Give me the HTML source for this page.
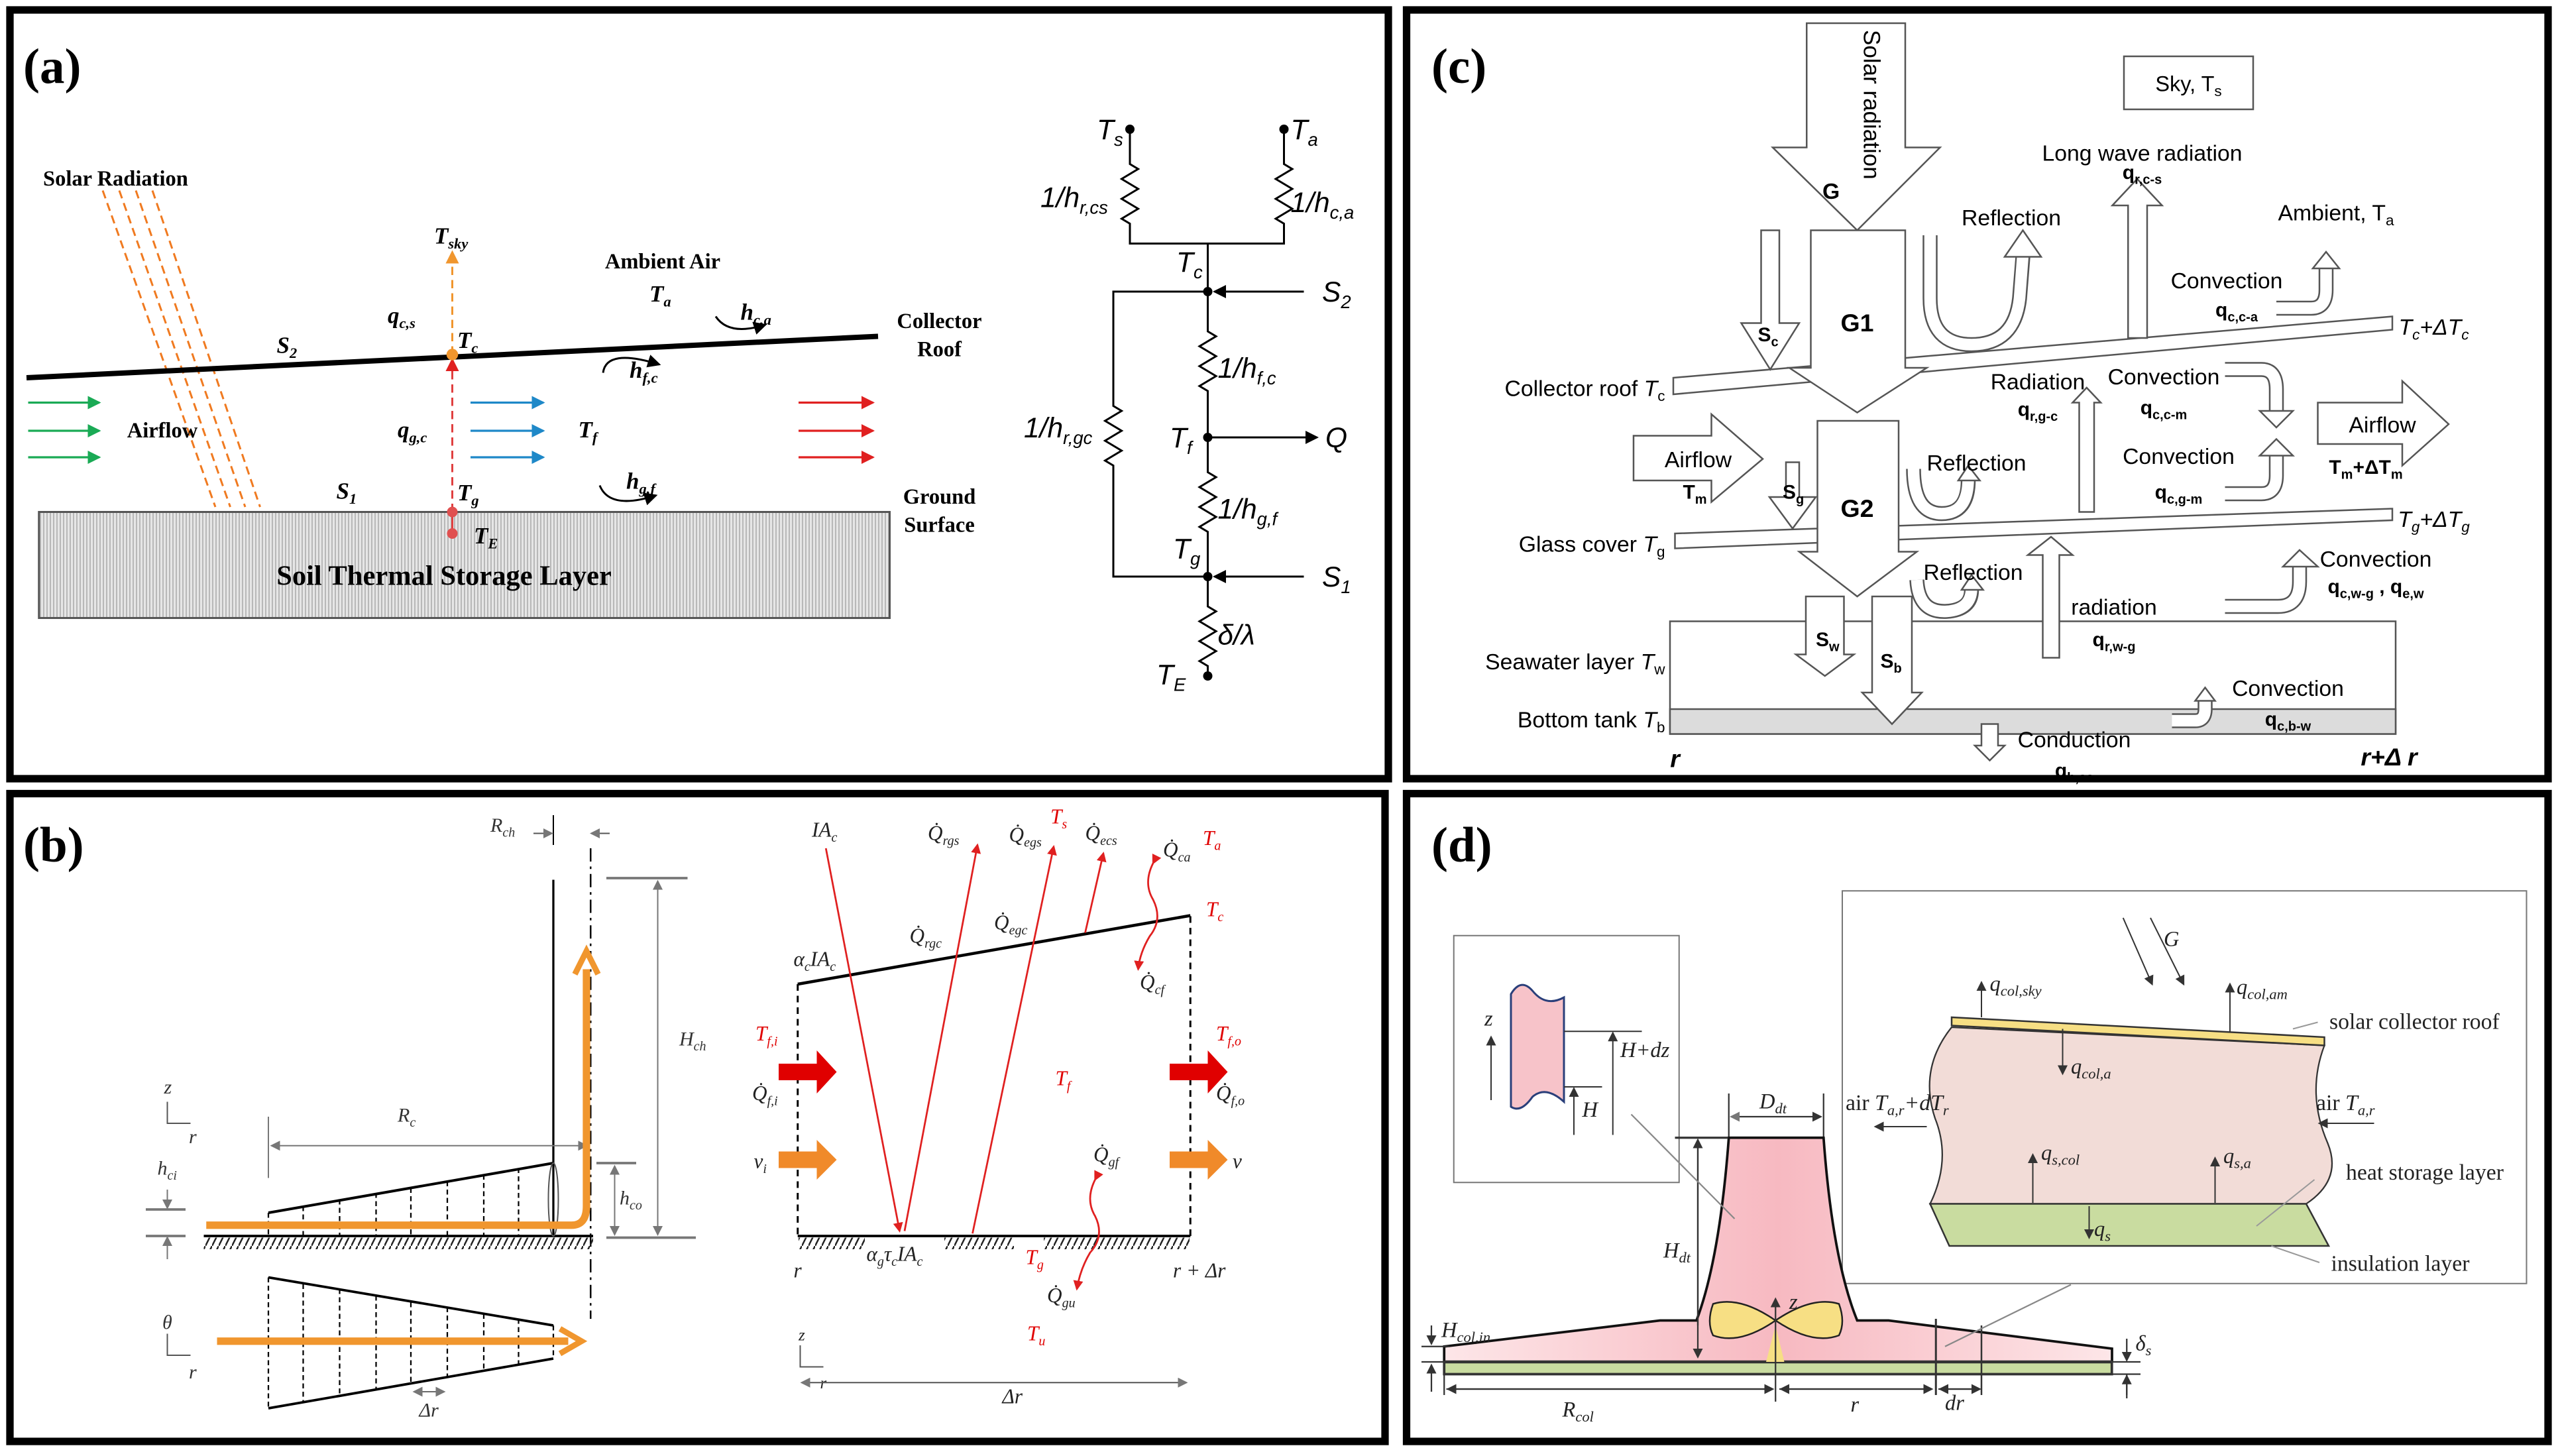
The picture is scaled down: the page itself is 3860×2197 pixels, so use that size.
<!DOCTYPE html>
<html><head><meta charset="utf-8"><style>
html,body{margin:0;padding:0;background:#fff;}
svg{display:block;}
.s{font-family:"Liberation Serif",serif;}
.si{font-family:"Liberation Serif",serif;font-style:italic;}
.ss{font-family:"Liberation Sans",sans-serif;}
.ssi{font-family:"Liberation Sans",sans-serif;font-style:italic;}
</style></head><body>
<svg width="3860" height="2197" viewBox="0 0 1544 878.8" xmlns="http://www.w3.org/2000/svg">
<defs>
<marker id="mk" markerWidth="8" markerHeight="8" refX="7" refY="4" orient="auto" markerUnits="userSpaceOnUse"><path d="M0,0 L8,4 L0,8 z" fill="#000"/></marker>
<marker id="mg" markerWidth="8" markerHeight="8" refX="7" refY="4" orient="auto" markerUnits="userSpaceOnUse"><path d="M0,0 L8,4 L0,8 z" fill="#1aaa55"/></marker>
<marker id="mb" markerWidth="8" markerHeight="8" refX="7" refY="4" orient="auto" markerUnits="userSpaceOnUse"><path d="M0,0 L8,4 L0,8 z" fill="#1e88c8"/></marker>
<marker id="mr" markerWidth="8" markerHeight="8" refX="7" refY="4" orient="auto" markerUnits="userSpaceOnUse"><path d="M0,0 L8,4 L0,8 z" fill="#e02020"/></marker>
<marker id="mo" markerWidth="8" markerHeight="8" refX="7" refY="4" orient="auto" markerUnits="userSpaceOnUse"><path d="M0,0 L8,4 L0,8 z" fill="#f0962e"/></marker>
<marker id="mrs" markerWidth="6" markerHeight="6" refX="5" refY="3" orient="auto" markerUnits="userSpaceOnUse"><path d="M0,0 L6,3 L0,6 z" fill="#e02020"/></marker>
<marker id="mks" markerWidth="6" markerHeight="6" refX="5" refY="3" orient="auto" markerUnits="userSpaceOnUse"><path d="M0,0 L6,3 L0,6 z" fill="#333"/></marker>
<marker id="mgs" markerWidth="6" markerHeight="6" refX="5" refY="3" orient="auto" markerUnits="userSpaceOnUse"><path d="M0,0 L6,3 L0,6 z" fill="#777"/></marker>
<marker id="mgb" markerWidth="6" markerHeight="6" refX="1" refY="3" orient="auto" markerUnits="userSpaceOnUse"><path d="M6,0 L0,3 L6,6 z" fill="#777"/></marker>
<pattern id="hatchv" width="2" height="10" patternUnits="userSpaceOnUse"><rect width="2" height="10" fill="#e6e6e6"/><rect width="0.8" height="10" fill="#b8b8b8"/></pattern>
<pattern id="hatchd" width="4" height="8" patternUnits="userSpaceOnUse"><path d="M4,0 L0,8" stroke="#222" stroke-width="1"/></pattern>
<linearGradient id="pk" x1="0" x2="1"><stop offset="0" stop-color="#fde6e8"/><stop offset="0.5" stop-color="#f7b9c1"/><stop offset="1" stop-color="#fde6e8"/></linearGradient>
</defs>

<!-- panel borders -->
<rect x="6" y="6" width="832" height="464" fill="none" stroke="#000" stroke-width="4.5"/>
<rect x="849" y="6" width="689" height="464" fill="none" stroke="#000" stroke-width="4.5"/>
<rect x="6" y="479" width="830" height="391" fill="none" stroke="#000" stroke-width="4.5"/>
<rect x="849" y="479" width="689" height="391" fill="none" stroke="#000" stroke-width="4.5"/>

<!-- ================= (a) ================= -->
<text x="14" y="50" class="s" font-size="30" font-weight="bold">(a)</text>
<text x="26" y="112" class="s" font-size="13" font-weight="bold">Solar Radiation</text>
<g stroke="#f07a20" stroke-width="1.2" stroke-dasharray="5,3" fill="none">
<line x1="62" y1="115" x2="130" y2="306"/><line x1="72" y1="115" x2="139" y2="306"/>
<line x1="82" y1="115" x2="148" y2="306"/><line x1="92" y1="115" x2="157" y2="306"/>
</g>
<rect x="23.5" y="309" width="513.5" height="64" fill="url(#hatchv)" stroke="#555" stroke-width="1.2"/>
<text x="268" y="353" class="s" font-size="17" font-weight="bold" text-anchor="middle">Soil Thermal Storage Layer</text>
<line x1="16" y1="228" x2="530" y2="203" stroke="#000" stroke-width="3.2"/>
<line x1="273" y1="214" x2="273" y2="152" stroke="#f0962e" stroke-width="1.2" stroke-dasharray="5,3" marker-end="url(#mo)"/>
<line x1="273" y1="309" x2="273" y2="217" stroke="#e04040" stroke-width="1.2" stroke-dasharray="5,3" marker-end="url(#mr)"/>
<line x1="273" y1="309" x2="273" y2="322" stroke="#e04040" stroke-width="1.2"/>
<circle cx="273" cy="214" r="3.5" fill="#f0962e"/>
<circle cx="273" cy="309" r="3.2" fill="#e05050"/>
<circle cx="273" cy="322" r="3.2" fill="#e05050"/>
<g stroke-width="1.3">
<line x1="17" y1="243" x2="60" y2="243" stroke="#1aaa55" marker-end="url(#mg)"/>
<line x1="17" y1="260" x2="60" y2="260" stroke="#1aaa55" marker-end="url(#mg)"/>
<line x1="17" y1="276" x2="60" y2="276" stroke="#1aaa55" marker-end="url(#mg)"/>
<line x1="284" y1="243" x2="328" y2="243" stroke="#1e88c8" marker-end="url(#mb)"/>
<line x1="284" y1="260" x2="328" y2="260" stroke="#1e88c8" marker-end="url(#mb)"/>
<line x1="284" y1="276" x2="328" y2="276" stroke="#1e88c8" marker-end="url(#mb)"/>
<line x1="482" y1="243" x2="527" y2="243" stroke="#e02020" marker-end="url(#mr)"/>
<line x1="482" y1="260" x2="527" y2="260" stroke="#e02020" marker-end="url(#mr)"/>
<line x1="482" y1="276" x2="527" y2="276" stroke="#e02020" marker-end="url(#mr)"/>
</g>
<g fill="none" stroke="#000" stroke-width="1.2">
<path d="M432 191 Q440 203 462 196" marker-end="url(#mk)"/>
<path d="M364 225 Q366 210 398 220" marker-end="url(#mk)"/>
<path d="M362 293 Q368 308 396 299" marker-end="url(#mk)"/>
</g>
<g class="si" font-weight="bold" font-size="14">
<text x="262" y="147">T<tspan font-size="9" dy="3">sky</tspan></text>
<text x="234" y="195">q<tspan font-size="9" dy="3">c,s</tspan></text>
<text x="276" y="210">T<tspan font-size="9" dy="3">c</tspan></text>
<text x="167" y="213">S<tspan font-size="9" dy="3">2</tspan></text>
<text x="392" y="182">T<tspan font-size="9" dy="3">a</tspan></text>
<text x="447" y="193">h<tspan font-size="9" dy="3">c,a</tspan></text>
<text x="380" y="228">h<tspan font-size="9" dy="3">f,c</tspan></text>
<text x="240" y="264">q<tspan font-size="9" dy="3">g,c</tspan></text>
<text x="349" y="264">T<tspan font-size="9" dy="3">f</tspan></text>
<text x="203" y="301">S<tspan font-size="9" dy="3">1</tspan></text>
<text x="276" y="302">T<tspan font-size="9" dy="3">g</tspan></text>
<text x="378" y="295">h<tspan font-size="9" dy="3">g,f</tspan></text>
<text x="286" y="328">T<tspan font-size="9" dy="3">E</tspan></text>
</g>
<g class="s" font-weight="bold" font-size="13">
<text x="400" y="162" text-anchor="middle">Ambient Air</text>
<text x="567" y="198" text-anchor="middle">Collector</text>
<text x="567" y="215" text-anchor="middle">Roof</text>
<text x="98" y="264" text-anchor="middle">Airflow</text>
<text x="567" y="304" text-anchor="middle">Ground</text>
<text x="567" y="321" text-anchor="middle">Surface</text>
</g>
<!-- circuit -->
<g fill="none" stroke="#000" stroke-width="1.2">
<path d="M682 78 L682 99 l5 3 l-10 6 l10 6 l-10 6 l10 6 l-10 6 l5 3 L682 147 L775 147 L775 135 l-5 -3 l10 -6 l-10 -6 l10 -6 l-10 -6 l10 -6 l-5 -3 L775 78"/>
<path d="M729 147 L729 200 l5 3 l-10 6 l10 6 l-10 6 l10 6 l-10 6 l5 3 L729 285 l5 3 l-10 6 l10 6 l-10 6 l10 6 l-10 6 l5 3 L729 366 l5 3 l-10 6 l10 6 l-10 6 l10 6 l-10 6 l5 3 L729 408"/>
<path d="M729 176 L672 176 L672 245 l5 3 l-10 6 l10 6 l-10 6 l10 6 l-10 6 l5 3 L672 348 L729 348"/>
<line x1="787" y1="176" x2="733" y2="176" marker-end="url(#mk)"/>
<line x1="787" y1="348" x2="733" y2="348" marker-end="url(#mk)"/>
<line x1="729" y1="264" x2="795" y2="264" marker-end="url(#mk)"/>
</g>
<g fill="#000"><circle cx="682" cy="78" r="2.8"/><circle cx="775" cy="78" r="2.8"/><circle cx="729" cy="176" r="2.8"/><circle cx="729" cy="264" r="2.8"/><circle cx="729" cy="348" r="2.8"/><circle cx="729" cy="408" r="2.8"/></g>
<g class="ssi" font-size="17">
<text x="662" y="84">T<tspan font-size="11" dy="4">s</tspan></text>
<text x="779" y="84">T<tspan font-size="11" dy="4">a</tspan></text>
<text x="628" y="125">1/h<tspan font-size="11" dy="4">r,cs</tspan></text>
<text x="779" y="128">1/h<tspan font-size="11" dy="4">c,a</tspan></text>
<text x="710" y="164">T<tspan font-size="11" dy="4">c</tspan></text>
<text x="798" y="182">S<tspan font-size="11" dy="4">2</tspan></text>
<text x="735" y="228">1/h<tspan font-size="11" dy="4">f,c</tspan></text>
<text x="618" y="264">1/h<tspan font-size="11" dy="4">r,gc</tspan></text>
<text x="706" y="270">T<tspan font-size="11" dy="4">f</tspan></text>
<text x="800" y="270">Q</text>
<text x="735" y="313">1/h<tspan font-size="11" dy="4">g,f</tspan></text>
<text x="708" y="337">T<tspan font-size="11" dy="4">g</tspan></text>
<text x="798" y="354">S<tspan font-size="11" dy="4">1</tspan></text>
<text x="735" y="389">δ/λ</text>
<text x="698" y="413">T<tspan font-size="11" dy="4">E</tspan></text>
</g>

<!-- ================= (c) ================= -->
<text x="864" y="50" class="s" font-size="30" font-weight="bold">(c)</text>
<rect x="1282" y="34" width="78" height="32" fill="#fff" stroke="#555" stroke-width="1"/>
<text x="1321" y="55" class="ss" font-size="13" text-anchor="middle">Sky, T<tspan font-size="9" dy="3">s</tspan></text>
<!-- slabs -->
<g fill="#fff" stroke="#555" stroke-width="1">
<polygon points="1010,228 1444,191 1444,199 1010,238"/>
<polygon points="1011,322 1444,307 1444,314 1011,331"/>
<rect x="1008" y="375" width="438" height="68"/>
<rect x="1008" y="428" width="438" height="15" fill="#dcdcdc"/>
</g>
<!-- block arrows -->
<g fill="#fff" stroke="#555" stroke-width="1">
<polygon points="1090.5,14 1150,14 1150,89 1171,89 1121,139 1070,89 1090.5,89"/>
<polygon points="1093,139 1150,139 1150,222 1163,222 1121,249 1080,222 1093,222"/>
<polygon points="1063,139 1074,139 1074,195 1086,195 1068.5,223 1051,195 1063,195"/>
<polygon points="1097,254 1146,254 1146,333 1157,333 1121,360 1086,333 1097,333"/>
<polygon points="1078,279 1086,279 1086,300 1096,300 1082,319 1068,300 1078,300"/>
<polygon points="1090,360 1113,360 1113,395 1119,395 1101.5,408 1084,395 1090,395"/>
<polygon points="1130,360 1154,360 1154,418 1160,418 1142,437 1124,418 1130,418"/>
<polygon points="1284.5,204 1296,204 1296,124 1305,124 1290,108 1275,124 1284.5,124"/>
<polygon points="1255,309 1264,309 1264,243 1268,243 1259.5,234 1251,243 1255,243"/>
<polygon points="1233,397 1243,397 1243,335 1251,335 1238,324 1224,335 1233,335"/>
<polygon points="1196,437 1206,437 1206,450 1210,450 1201,459 1192,450 1196,450"/>
<polygon points="1399,243 1450,243 1450,230 1478,256 1450,281 1450,268 1399,268"/>
<polygon points="986,263 1033,263 1033,250 1064,277 1033,303 1033,290 986,290"/>
</g>
<!-- curved tube arrows -->
<g fill="none" stroke-linecap="butt">
<g stroke="#555" stroke-width="9">
<path d="M1165 142 L1165 180 Q1165 208 1190 208 Q1216 208 1219 180 L1221 155"/>
<path d="M1155 283 Q1155 310 1172 310 Q1188 310 1188 290"/>
<path d="M1157 350 Q1158 370 1175 369 Q1190 368 1190 356"/>
<path d="M1374 186 L1395 186 Q1404 186 1404 175 L1404 162"/>
<path d="M1343 223 L1365 223 Q1374 223 1374 235 L1374 248"/>
<path d="M1343 298 L1365 298 Q1374 298 1374 287 L1374 275"/>
<path d="M1343 366 L1375 366 Q1388 366 1388 351 L1388 342"/>
<path d="M1311 435 L1325 435 Q1331 435 1331 428 L1331 423"/>
</g>
<g stroke="#fff" stroke-width="7">
<path d="M1165 142 L1165 180 Q1165 208 1190 208 Q1216 208 1219 180 L1221 154"/>
<path d="M1155 283 Q1155 310 1172 310 Q1188 310 1188 289"/>
<path d="M1157 350 Q1158 370 1175 369 Q1190 368 1190 355"/>
<path d="M1374 186 L1395 186 Q1404 186 1404 175 L1404 161"/>
<path d="M1343 223 L1365 223 Q1374 223 1374 235 L1374 249"/>
<path d="M1343 298 L1365 298 Q1374 298 1374 287 L1374 274"/>
<path d="M1343 366 L1375 366 Q1388 366 1388 351 L1388 341"/>
<path d="M1311 435 L1325 435 Q1331 435 1331 428 L1331 422"/>
</g>
</g>
<g fill="#fff" stroke="#555" stroke-width="1">
<polygon points="1210,155 1232,155 1221,139"/>
<polygon points="1182,290 1195,290 1188,281"/>
<polygon points="1184,356 1197,356 1190,347"/>
<polygon points="1396,162 1412,162 1404,152"/>
<polygon points="1364,248 1384,248 1374,258"/>
<polygon points="1364,275 1384,275 1374,265"/>
<polygon points="1378,342 1399,342 1388,332"/>
<polygon points="1325,423 1337,423 1331,415"/>
</g>
<text transform="translate(1125,18) rotate(90)" class="ss" font-size="14">Solar radiation</text>
<g class="ss" font-size="13.5">
<text x="1100" y="120" font-weight="bold">G</text>
<text x="1293" y="97" text-anchor="middle">Long wave radiation</text>
<text x="1214" y="136" text-anchor="middle">Reflection</text>
<text x="1410" y="133" text-anchor="middle">Ambient, T<tspan font-size="9" dy="3">a</tspan></text>
<text x="1344" y="174" text-anchor="middle">Convection</text>
<text x="1469" y="202" text-anchor="middle" font-style="italic">T<tspan font-size="9" dy="3">c</tspan><tspan dy="-3">+ΔT</tspan><tspan font-size="9" dy="3">c</tspan></text>
<text x="1005" y="239" text-anchor="end">Collector roof  <tspan font-style="italic">T</tspan><tspan font-size="9" dy="3">c</tspan></text>
<text x="1121" y="200" text-anchor="middle" font-weight="bold" font-size="15">G1</text>
<text x="1230" y="235" text-anchor="middle">Radiation</text>
<text x="1306" y="232" text-anchor="middle">Convection</text>
<text x="1438" y="261" text-anchor="middle">Airflow</text>
<text x="1025" y="282" text-anchor="middle">Airflow</text>
<text x="1193" y="284" text-anchor="middle">Reflection</text>
<text x="1315" y="280" text-anchor="middle">Convection</text>
<text x="1121" y="312" text-anchor="middle" font-weight="bold" font-size="15">G2</text>
<text x="1469" y="318" text-anchor="middle" font-style="italic">T<tspan font-size="9" dy="3">g</tspan><tspan dy="-3">+ΔT</tspan><tspan font-size="9" dy="3">g</tspan></text>
<text x="1005" y="333" text-anchor="end">Glass cover  <tspan font-style="italic">T</tspan><tspan font-size="9" dy="3">g</tspan></text>
<text x="1434" y="342" text-anchor="middle">Convection</text>
<text x="1191" y="350" text-anchor="middle">Reflection</text>
<text x="1276" y="371" text-anchor="middle">radiation</text>
<text x="1005" y="404" text-anchor="end">Seawater layer  <tspan font-style="italic">T</tspan><tspan font-size="9" dy="3">w</tspan></text>
<text x="1005" y="439" text-anchor="end">Bottom tank  <tspan font-style="italic">T</tspan><tspan font-size="9" dy="3">b</tspan></text>
<text x="1381" y="420" text-anchor="middle">Convection</text>
<text x="1252" y="451" text-anchor="middle">Conduction</text>
<text x="1011" y="463" text-anchor="middle" font-style="italic" font-weight="bold" font-size="15">r</text>
<text x="1442" y="462" text-anchor="middle" font-style="italic" font-weight="bold" font-size="15">r+Δ r</text>
</g>
<g class="ss" font-size="12" font-weight="bold">
<text x="1293" y="108" text-anchor="middle">q<tspan font-size="8" dy="3">r,c-s</tspan></text>
<text x="1350" y="191" text-anchor="middle">q<tspan font-size="8" dy="3">c,c-a</tspan></text>
<text x="1061" y="206">S<tspan font-size="8" dy="3">c</tspan></text>
<text x="1230" y="251" text-anchor="middle">q<tspan font-size="8" dy="3">r,g-c</tspan></text>
<text x="1306" y="250" text-anchor="middle">q<tspan font-size="8" dy="3">c,c-m</tspan></text>
<text x="1428" y="286" text-anchor="middle">T<tspan font-size="8" dy="3">m</tspan><tspan dy="-3">+ΔT</tspan><tspan font-size="8" dy="3">m</tspan></text>
<text x="1023" y="301" text-anchor="middle">T<tspan font-size="8" dy="3">m</tspan></text>
<text x="1076" y="301">S<tspan font-size="8" dy="3">g</tspan></text>
<text x="1315" y="301" text-anchor="middle">q<tspan font-size="8" dy="3">c,g-m</tspan></text>
<text x="1434" y="358" text-anchor="middle">q<tspan font-size="8" dy="3">c,w-g</tspan><tspan dy="-3"> , q</tspan><tspan font-size="8" dy="3">e,w</tspan></text>
<text x="1276" y="390" text-anchor="middle">q<tspan font-size="8" dy="3">r,w-g</tspan></text>
<text x="1096" y="390">S<tspan font-size="8" dy="3">w</tspan></text>
<text x="1135" y="403">S<tspan font-size="8" dy="3">b</tspan></text>
<text x="1381" y="438" text-anchor="middle">q<tspan font-size="8" dy="3">c,b-w</tspan></text>
<text x="1252" y="469" text-anchor="middle">q<tspan font-size="8" dy="3">h,ss</tspan></text>
</g>

<!-- ================= (b) ================= -->
<text x="14" y="520" class="s" font-size="30" font-weight="bold">(b)</text>
<g stroke="#000" fill="none">
<line x1="334" y1="531" x2="334" y2="746" stroke-width="1.3"/>
<line x1="356.5" y1="512" x2="356.5" y2="796" stroke-width="1" stroke-dasharray="8,3,1.5,3"/>
<line x1="334" y1="492" x2="334" y2="510" stroke-width="0.8"/>
<line x1="322" y1="503" x2="333" y2="503" stroke-width="0.8" stroke="#555" marker-end="url(#mgs)"/>
<line x1="368" y1="503" x2="357" y2="503" stroke-width="0.8" stroke="#555" marker-end="url(#mgs)"/>
<line x1="366" y1="530" x2="415" y2="530" stroke="#777" stroke-width="1.5"/>
<line x1="366" y1="747" x2="420" y2="747" stroke="#777" stroke-width="1.5"/>
<line x1="397" y1="532" x2="397" y2="745" stroke="#777" stroke-width="0.8" marker-start="url(#mgb)" marker-end="url(#mgs)"/>
<line x1="360" y1="702" x2="384" y2="702" stroke="#777" stroke-width="1.5"/>
<line x1="371" y1="704" x2="371" y2="745" stroke="#777" stroke-width="0.8" marker-start="url(#mgb)" marker-end="url(#mgs)"/>
<line x1="162" y1="732" x2="334" y2="702" stroke-width="1.6"/>
<line x1="123" y1="746" x2="358" y2="746" stroke-width="1.5"/>
</g>
<rect x="123" y="747" width="235" height="7" fill="url(#hatchd)"/>
<g stroke="#000" stroke-width="0.9" stroke-dasharray="3,2">
<line x1="183" y1="728" x2="183" y2="746"/><line x1="205" y1="724" x2="205" y2="746"/><line x1="227" y1="720" x2="227" y2="746"/>
<line x1="248" y1="717" x2="248" y2="746"/><line x1="270" y1="713" x2="270" y2="746"/><line x1="292" y1="709" x2="292" y2="746"/><line x1="313" y1="705" x2="313" y2="746"/>
<line x1="162" y1="732" x2="162" y2="746"/>
</g>
<g stroke="#777" stroke-width="0.8" fill="none">
<line x1="162" y1="674" x2="162" y2="711"/>
<line x1="164" y1="691.5" x2="354" y2="691.5" marker-start="url(#mgb)" marker-end="url(#mgs)"/>
<line x1="88" y1="730" x2="112" y2="730" stroke-width="1.5"/>
<line x1="88" y1="746" x2="112" y2="746" stroke-width="1.5"/>
<line x1="101" y1="718" x2="101" y2="729" marker-end="url(#mgs)"/>
<line x1="101" y1="760" x2="101" y2="747" marker-end="url(#mgs)"/>
<ellipse cx="334" cy="724" rx="3" ry="22" stroke="#555"/>
</g>
<path d="M124.5 739.5 L345 739.5 Q354 739.5 354 728 L354 585" fill="none" stroke="#f0962e" stroke-width="4.5"/>
<path d="M347 588 L354 574 L361 588" fill="none" stroke="#f0962e" stroke-width="3.5"/>
<!-- plan -->
<g stroke="#000" fill="none">
<line x1="162" y1="771" x2="334" y2="800" stroke-width="1.5"/>
<line x1="162" y1="850" x2="334" y2="820" stroke-width="1.5"/>
<g stroke-width="0.9" stroke-dasharray="3,2">
<line x1="162" y1="771" x2="162" y2="850"/><line x1="183" y1="775" x2="183" y2="846"/><line x1="205" y1="778" x2="205" y2="842"/>
<line x1="227" y1="782" x2="227" y2="839"/><line x1="248" y1="786" x2="248" y2="835"/><line x1="270" y1="789" x2="270" y2="831"/>
<line x1="292" y1="793" x2="292" y2="827"/><line x1="313" y1="796" x2="313" y2="824"/><line x1="334" y1="800" x2="334" y2="820"/>
</g>
</g>
<line x1="131" y1="809.5" x2="343" y2="809.5" stroke="#f0962e" stroke-width="4.5"/>
<path d="M338 802 L351 809.5 L338 817" fill="none" stroke="#f0962e" stroke-width="3.5"/>
<line x1="250" y1="840" x2="268" y2="840" stroke="#555" stroke-width="0.7" marker-start="url(#mgb)" marker-end="url(#mgs)"/>
<!-- axes -->
<g stroke="#555" stroke-width="0.8" fill="none">
<path d="M101 665 L101 678 L115 678"/><path d="M101 805 L101 818 L115 818"/><path d="M483 812 L483 825 L497 825"/>
</g>
<g class="si" font-size="12" fill="#333">
<text x="99" y="660">z</text><text x="114" y="690">r</text>
<text x="98" y="802">θ</text><text x="114" y="832">r</text>
<text x="296" y="502">R<tspan font-size="8" dy="3">ch</tspan></text>
<text x="410" y="631">H<tspan font-size="8" dy="3">ch</tspan></text>
<text x="240" y="677">R<tspan font-size="8" dy="3">c</tspan></text>
<text x="95" y="709">h<tspan font-size="8" dy="3">ci</tspan></text>
<text x="374" y="727">h<tspan font-size="8" dy="3">co</tspan></text>
<text x="253" y="855">Δr</text>
</g>
<!-- right (b) -->
<g stroke="#000" fill="none">
<line x1="481.5" y1="594" x2="481.5" y2="746" stroke-width="1.2" stroke-dasharray="4,3"/>
<line x1="718.5" y1="553" x2="718.5" y2="746" stroke-width="1.2" stroke-dasharray="4,3"/>
<line x1="481.5" y1="594" x2="718.5" y2="552.6" stroke-width="1.8"/>
<line x1="481.5" y1="746" x2="718.5" y2="746" stroke-width="1.5"/>
</g>
<rect x="482" y="747" width="40" height="7" fill="url(#hatchd)"/>
<rect x="570" y="747" width="42" height="7" fill="url(#hatchd)"/>
<rect x="630" y="747" width="88" height="7" fill="url(#hatchd)"/>
<g stroke="#e02020" stroke-width="1.1" fill="none">
<line x1="498.5" y1="512" x2="543" y2="743" marker-end="url(#mrs)"/>
<line x1="546" y1="743" x2="590" y2="510" marker-end="url(#mrs)"/>
<line x1="587" y1="744.5" x2="636" y2="511" marker-end="url(#mrs)"/>
<line x1="655" y1="563" x2="666" y2="515" marker-end="url(#mrs)"/>
<path d="M696 521 q-6 12 0 22 q6 12 -2 22 q-6 10 -7 20" marker-start="url(#mrs)" marker-end="url(#mrs)"/>
<path d="M661 712 q-6 12 0 22 q6 12 -3 22 q-6 10 -8 22" marker-start="url(#mrs)" marker-end="url(#mrs)"/>
</g>
<g fill="#e00000">
<polygon points="470,642 493,642 493,634 505,647 493,660 493,652 470,652"/>
<polygon points="706,642 729,642 729,634 741,647 729,660 729,652 706,652"/>
</g>
<g fill="#f08a2a">
<polygon points="470,695 493,695 493,688 505,700 493,712 493,705 470,705"/>
<polygon points="706,695 729,695 729,688 741,700 729,712 729,705 706,705"/>
</g>
<g class="si" font-size="12.5" fill="#222">
<text x="490" y="505">IA<tspan font-size="8" dy="3">c</tspan></text>
<text x="560" y="507">Q̇<tspan font-size="8" dy="3">rgs</tspan></text>
<text x="609" y="508">Q̇<tspan font-size="8" dy="3">egs</tspan></text>
<text x="655" y="507">Q̇<tspan font-size="8" dy="3">ecs</tspan></text>
<text x="702" y="517">Q̇<tspan font-size="8" dy="3">ca</tspan></text>
<text x="549" y="569">Q̇<tspan font-size="8" dy="3">rgc</tspan></text>
<text x="600" y="561">Q̇<tspan font-size="8" dy="3">egc</tspan></text>
<text x="479" y="583">α<tspan font-size="8" dy="3">c</tspan><tspan dy="-3">IA</tspan><tspan font-size="8" dy="3">c</tspan></text>
<text x="688" y="597">Q̇<tspan font-size="8" dy="3">cf</tspan></text>
<text x="454" y="664">Q̇<tspan font-size="8" dy="3">f,i</tspan></text>
<text x="734" y="664">Q̇<tspan font-size="8" dy="3">f,o</tspan></text>
<text x="455" y="705">v<tspan font-size="8" dy="3">i</tspan></text>
<text x="744" y="705">v</text>
<text x="660" y="701">Q̇<tspan font-size="8" dy="3">gf</tspan></text>
<text x="523" y="761">α<tspan font-size="8" dy="3">g</tspan><tspan dy="-3">τ</tspan><tspan font-size="8" dy="3">c</tspan><tspan dy="-3">IA</tspan><tspan font-size="8" dy="3">c</tspan></text>
<text x="479" y="771">r</text>
<text x="708" y="771">r + Δr</text>
<text x="632" y="786">Q̇<tspan font-size="8" dy="3">gu</tspan></text>
<text x="482" y="809" font-size="10">z</text><text x="495" y="838" font-size="10">r</text>
<text x="605" y="847">Δr</text>
</g>
<g class="si" font-size="12.5" fill="#e00000">
<text x="634" y="497">T<tspan font-size="8" dy="3">s</tspan></text>
<text x="726" y="510">T<tspan font-size="8" dy="3">a</tspan></text>
<text x="728" y="553">T<tspan font-size="8" dy="3">c</tspan></text>
<text x="456" y="628">T<tspan font-size="8" dy="3">f,i</tspan></text>
<text x="637" y="655">T<tspan font-size="8" dy="3">f</tspan></text>
<text x="734" y="628">T<tspan font-size="8" dy="3">f,o</tspan></text>
<text x="619" y="763">T<tspan font-size="8" dy="3">g</tspan></text>
<text x="620" y="809">T<tspan font-size="8" dy="3">u</tspan></text>
</g>
<line x1="484" y1="834.5" x2="716" y2="834.5" stroke="#555" stroke-width="0.8" marker-start="url(#mgb)" marker-end="url(#mgs)"/>

<!-- ================= (d) ================= -->
<text x="864" y="520" class="s" font-size="30" font-weight="bold">(d)</text>
<rect x="877.5" y="564.7" width="136" height="149" fill="#fff" stroke="#777" stroke-width="0.8"/>
<path d="M912 600 Q918 590 925 598 Q933 608 944 602 L944 665 Q933 655 925 662 Q918 672 912 668 Z" fill="#f7c3c9" stroke="#2a3f7a" stroke-width="1.2"/>
<g stroke="#333" stroke-width="0.8" fill="none">
<line x1="944" y1="622.5" x2="991" y2="622.5"/>
<line x1="944" y1="656" x2="967" y2="656"/>
<line x1="900" y1="664" x2="900" y2="626" marker-end="url(#mks)"/>
<line x1="950" y1="685" x2="950" y2="657" marker-end="url(#mks)"/>
<line x1="973.5" y1="685" x2="973.5" y2="623.5" marker-end="url(#mks)"/>
</g>
<g class="si" font-size="13" fill="#222">
<text x="896" y="619">z</text>
<text x="978" y="638">H+dz</text>
<text x="955" y="674">H</text>
</g>
<rect x="1112" y="537.7" width="413" height="237" fill="#fff" stroke="#777" stroke-width="0.8"/>
<path d="M1178 620 L1403 631 Q1392 660 1405 690 Q1414 712 1392 726.6 L1165 726.6 Q1178 700 1168 675 Q1158 645 1178 620 Z" fill="#f2dcd7" stroke="#333" stroke-width="0.9"/>
<polygon points="1165,726.6 1392,726.6 1405.6,752 1176.6,752" fill="#c9dca0" stroke="#333" stroke-width="1"/>
<polygon points="1178,614 1403,626 1403,631 1178,619" fill="#f7df84" stroke="#333" stroke-width="1"/>
<g stroke="#333" stroke-width="0.8" fill="none">
<line x1="1281.5" y1="554" x2="1299" y2="594" marker-end="url(#mks)"/>
<line x1="1298" y1="554" x2="1318" y2="594" marker-end="url(#mks)"/>
<line x1="1196" y1="614" x2="1196" y2="593" marker-end="url(#mks)"/>
<line x1="1346" y1="623" x2="1346" y2="594" marker-end="url(#mks)"/>
<line x1="1245" y1="621" x2="1245" y2="648" marker-end="url(#mks)"/>
<line x1="1163" y1="680" x2="1132" y2="680" marker-end="url(#mks)"/>
<line x1="1433" y1="678" x2="1400" y2="678" marker-end="url(#mks)"/>
<line x1="1227" y1="726" x2="1227" y2="697" marker-end="url(#mks)"/>
<line x1="1337" y1="726" x2="1337" y2="699" marker-end="url(#mks)"/>
<line x1="1261" y1="728" x2="1261" y2="747" marker-end="url(#mks)"/>
<line x1="1384" y1="621" x2="1399" y2="617" stroke="#999"/>
<line x1="1362" y1="740" x2="1397" y2="712" stroke="#999"/>
<line x1="1371" y1="752" x2="1400" y2="762" stroke="#999"/>
</g>
<g class="si" font-size="13" fill="#222">
<text x="1306" y="571">G</text>
<text x="1201" y="598">q<tspan font-size="9" dy="3">col,sky</tspan></text>
<text x="1350" y="600">q<tspan font-size="9" dy="3">col,am</tspan></text>
<text x="1250" y="648">q<tspan font-size="9" dy="3">col,a</tspan></text>
<text x="1232" y="700">q<tspan font-size="9" dy="3">s,col</tspan></text>
<text x="1342" y="702">q<tspan font-size="9" dy="3">s,a</tspan></text>
<text x="1264" y="746">q<tspan font-size="9" dy="3">s</tspan></text>
</g>
<g class="s" font-size="13.5" fill="#222">
<text x="1406" y="621">solar collector roof</text>
<text x="1416" y="712">heat storage layer</text>
<text x="1407" y="767">insulation layer</text>
<text x="1114" y="670">air <tspan font-style="italic">T</tspan><tspan font-size="9" dy="3" font-style="italic">a,r</tspan><tspan dy="-3" font-style="italic">+dT</tspan><tspan font-size="9" dy="3" font-style="italic">r</tspan></text>
<text x="1398" y="670">air <tspan font-style="italic">T</tspan><tspan font-size="9" dy="3" font-style="italic">a,r</tspan></text>
</g>
<!-- tower & collector -->
<path d="M871.7 812.7 L1002 797 L1024 797 Q1038 760 1043.5 686.7 L1100.7 686.7 Q1106 760 1121 797 L1140 797 L1274.8 814 L1274.8 822 L871.7 822 Z" fill="url(#pk)" stroke="none"/>
<path d="M871.7 822 L871.7 812.7 L1002 797 L1024 797 Q1038 760 1043.5 686.7 L1100.7 686.7 Q1106 760 1121 797 L1140 797 L1274.8 814 L1274.8 822" fill="none" stroke="#111" stroke-width="1.5"/>
<rect x="871.7" y="822" width="403" height="7.4" fill="#c9dca0" stroke="#333" stroke-width="1.5"/>
<line x1="871.7" y1="822" x2="1274.8" y2="822" stroke="#333" stroke-width="1.8"/>
<g fill="#f7df84" stroke="#222" stroke-width="1">
<path d="M1071.7 797 Q1050 782 1034 787 Q1030 798 1034 806 Q1050 812 1071.7 797 Z"/>
<path d="M1071.7 797 Q1094 782 1110 787 Q1114 798 1110 806 Q1094 812 1071.7 797 Z"/>
<path d="M1066 822 L1071.7 800 L1077 822 Z" stroke="none"/>
</g>
<g stroke="#333" stroke-width="0.9" fill="none">
<line x1="1011" y1="686.7" x2="1043" y2="686.7" stroke-width="1.3"/>
<line x1="1045" y1="674" x2="1099" y2="674" marker-start="url(#mgb)" marker-end="url(#mks)"/>
<line x1="1043.5" y1="660" x2="1043.5" y2="686"/><line x1="1100.7" y1="660" x2="1100.7" y2="686"/>
<line x1="1024.8" y1="689" x2="1024.8" y2="819" marker-end="url(#mks)"/>
<line x1="1024.8" y1="800" x2="1024.8" y2="688" marker-end="url(#mks)"/>
<line x1="1071.7" y1="846" x2="1071.7" y2="784" marker-end="url(#mks)"/>
<line x1="873" y1="838.4" x2="1070" y2="838.4" marker-end="url(#mks)"/>
<line x1="1070" y1="838.4" x2="874" y2="838.4" marker-end="url(#mks)"/>
<line x1="1074" y1="838.4" x2="1166" y2="838.4" marker-end="url(#mks)"/>
<line x1="1166" y1="838.4" x2="1075" y2="838.4" marker-end="url(#mks)"/>
<line x1="1170" y1="838.4" x2="1195" y2="838.4" marker-end="url(#mks)"/>
<line x1="1195" y1="838.4" x2="1171" y2="838.4" marker-end="url(#mks)"/>
<line x1="1168.5" y1="796" x2="1168.5" y2="842" stroke-width="1.2"/>
<line x1="1196" y1="800" x2="1196" y2="842" stroke-width="1"/>
<line x1="871.7" y1="822" x2="871.7" y2="842"/>
<line x1="864" y1="800" x2="864" y2="811" marker-end="url(#mks)"/>
<line x1="858" y1="812.7" x2="875" y2="812.7"/><line x1="858" y1="822" x2="875" y2="822"/>
<line x1="864" y1="840" x2="864" y2="824" marker-end="url(#mks)"/>
<line x1="1270" y1="822" x2="1292" y2="822"/><line x1="1270" y1="829.4" x2="1292" y2="829.4"/>
<line x1="1283.7" y1="808" x2="1283.7" y2="821" marker-end="url(#mks)"/>
<line x1="1283.7" y1="842" x2="1283.7" y2="830.5" marker-end="url(#mks)"/>
<line x1="1283.7" y1="829" x2="1283.7" y2="844"/>
<line x1="984.6" y1="672.6" x2="1047" y2="735.6" stroke="#888"/>
<line x1="1250" y1="775.4" x2="1174" y2="812.7" stroke="#888"/>
</g>
<g class="si" font-size="13" fill="#222">
<text x="1062" y="669">D<tspan font-size="9" dy="3">dt</tspan></text>
<text x="1004" y="759">H<tspan font-size="9" dy="3">dt</tspan></text>
<text x="1080" y="790">z</text>
<text x="870" y="807">H<tspan font-size="9" dy="3">col,in</tspan></text>
<text x="943" y="855">R<tspan font-size="9" dy="3">col</tspan></text>
<text x="1117" y="852">r</text>
<text x="1174" y="851">dr</text>
<text x="1289" y="815">δ<tspan font-size="9" dy="3">s</tspan></text>
</g>
</svg>
</body></html>
